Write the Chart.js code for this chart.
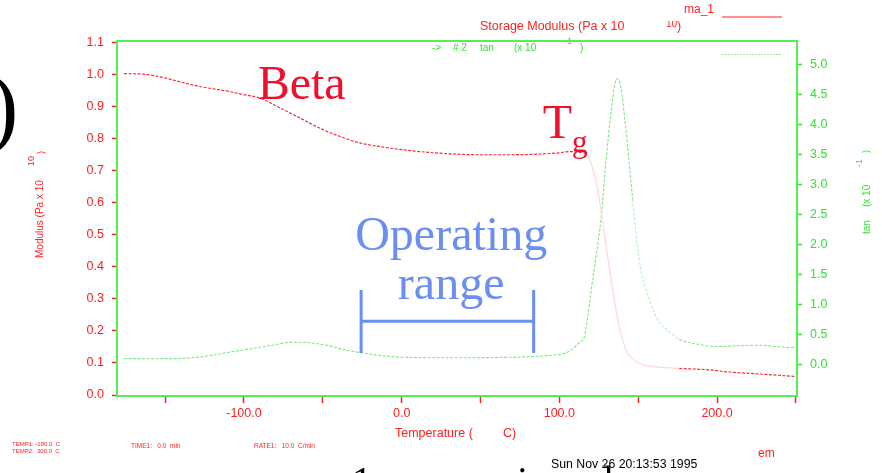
<!DOCTYPE html>
<html>
<head>
<meta charset="utf-8">
<script src="https://cdn.jsdelivr.net/npm/chart.js@4.4.0/dist/chart.umd.min.js"></script>
<style>
html,body{margin:0;padding:0;background:#fff;overflow:hidden;}
canvas{display:block;}
</style>
</head>
<body>
<canvas id="c" width="882" height="473"></canvas>
<script>
// Storage modulus (Pa x 10^10) vs temperature (C)
const modTemp = [-176,-165,-153,-140,-128,-109,-102.5,-90,-77,-64.6,-52,-39,-26.6,-7.6,11.4,30,49,68,87,100,106,112,117.7,121,124,127,130,133.5,138,142.4,150.6,163,176,197,205,226,247,250];
const modVal  = [1.003,1.002,0.993,0.977,0.963,0.947,0.94,0.927,0.896,0.865,0.833,0.807,0.787,0.771,0.760,0.753,0.750,0.750,0.752,0.756,0.760,0.758,0.750,0.71,0.651,0.556,0.453,0.338,0.213,0.14,0.10,0.087,0.083,0.078,0.073,0.066,0.059,0.058];
// tan delta (x 10^-1) vs temperature (C)
const tanTemp = [-176,-160,-142,-123,-110,-96,-82,-69,-58,-46,-37,-27,-6,26,60,83,98,104,108,113,116,118,120,123,126.6,129.7,133,135,136.5,139,142,146.5,150.6,157,163,170,176,188,201,215,227,236,248,250];
const tanVal  = [0.107,0.105,0.107,0.15,0.21,0.27,0.33,0.38,0.37,0.32,0.26,0.21,0.14,0.12,0.125,0.14,0.17,0.20,0.26,0.38,0.48,0.80,1.21,1.76,2.48,3.43,4.26,4.65,4.77,4.63,3.98,2.76,1.76,1.10,0.73,0.55,0.43,0.345,0.31,0.32,0.33,0.31,0.29,0.29];
// tick labels
const xTickVals  = [-150,-100,-50,0,50,100,150,200,250];
const yTickVals  = [0,0.1,0.2,0.3,0.4,0.5,0.6,0.7,0.8,0.9,1.0,1.1];
const y2TickVals = [0,0.5,1.0,1.5,2.0,2.5,3.0,3.5,4.0,4.5,5.0];

const RED = '#ff2020', GREEN = '#2fe62f', BORDER = '#55ee55', BLUE = '#6a8ef3', ANN = '#f0102e';
const SANS = '"Liberation Sans", Arial, sans-serif';
const SERIF = '"Liberation Serif", "Times New Roman", serif';

const pts = (xs, ys) => xs.map((x, i) => ({x: x, y: ys[i]}));

const deco = {
  id: 'deco',
  afterDraw(chart) {
    const ctx = chart.ctx, a = chart.chartArea;
    const sx = chart.scales.x, sy = chart.scales.y;
    const X = v => sx.getPixelForValue(v), Y = v => sy.getPixelForValue(v);
    ctx.save();
    // top frame line
    ctx.strokeStyle = BORDER; ctx.lineWidth = 2;
    ctx.beginPath(); ctx.moveTo(a.left, a.top); ctx.lineTo(a.right, a.top); ctx.stroke();

    function txt(s, x, y, font, color, align, base) {
      ctx.font = font; ctx.fillStyle = color;
      ctx.textAlign = align || 'left'; ctx.textBaseline = base || 'middle';
      ctx.fillText(s, x, y);
    }
    // header texts
    txt('Storage Modulus (Pa x 10', 480, 27, '12.5px ' + SANS, RED);
    ctx.save(); ctx.beginPath(); ctx.rect(660, 21, 30, 20); ctx.clip();
    txt('10', 666, 24, '10px ' + SANS, RED); ctx.restore();
    txt(')', 677, 27, '12.5px ' + SANS, RED);
    txt('ma_1', 684, 10, '12px ' + SANS, RED);
    ctx.strokeStyle = RED; ctx.lineWidth = 1.2;
    ctx.beginPath(); ctx.moveTo(722, 17); ctx.lineTo(782, 17); ctx.stroke();
    txt('->', 432, 48, '10px ' + SANS, GREEN);
    txt('# 2', 453, 48, '10px ' + SANS, GREEN);
    txt('tan', 480, 48, '10px ' + SANS, GREEN);
    txt('(x 10', 514, 48, '10px ' + SANS, GREEN);
    txt('-1', 564, 42, '9px ' + SANS, GREEN);
    txt(')', 580, 48, '10px ' + SANS, GREEN);
    ctx.strokeStyle = '#9af09a'; ctx.lineWidth = 1; ctx.setLineDash([2, 1]);
    ctx.beginPath(); ctx.moveTo(722, 54.5); ctx.lineTo(782, 54.5); ctx.stroke();
    ctx.setLineDash([]);

    // left axis title (rotated)
    ctx.save(); ctx.translate(40, 258); ctx.rotate(-Math.PI / 2);
    txt('Modulus (Pa x 10', 0, 0, '10px ' + SANS, RED);
    ctx.restore();
    ctx.save(); ctx.translate(32, 166); ctx.rotate(-Math.PI / 2);
    txt('10', 0, 0, '9px ' + SANS, RED); ctx.restore();
    ctx.save(); ctx.translate(42, 154); ctx.rotate(-Math.PI / 2);
    txt(')', 0, 0, '9px ' + SANS, RED); ctx.restore();

    // right axis title (rotated)
    ctx.save(); ctx.translate(867, 234); ctx.rotate(-Math.PI / 2);
    txt('tan', 0, 0, '10px ' + SANS, GREEN);
    txt('(x 10', 27, 0, '10px ' + SANS, GREEN);
    ctx.restore();
    ctx.save(); ctx.translate(860, 167); ctx.rotate(-Math.PI / 2);
    txt('-1', 0, 0, '9px ' + SANS, GREEN); ctx.restore();
    ctx.save(); ctx.translate(867, 153); ctx.rotate(-Math.PI / 2);
    txt(')', 0, 0, '9px ' + SANS, GREEN); ctx.restore();

    // bottom texts
    txt('Temperature (', 395, 434, '12.5px ' + SANS, RED);
    txt('C)', 503, 434, '12.5px ' + SANS, RED);
    txt('TEMP1: -180.0  C', 12, 444, '6px ' + SANS, RED);
    txt('TEMP2:  300.0  C', 12, 451, '6px ' + SANS, RED);
    txt('TIME1:   0.0  min', 131, 446, '6.5px ' + SANS, RED);
    txt('RATE1:   10.0  C/min', 254, 446, '6.5px ' + SANS, RED);
    txt('em', 758, 454, '12px ' + SANS, RED);

    // clipped slide text fragments at the bottom
    ctx.font = '40px ' + SERIF; ctx.fillStyle = '#000'; ctx.textBaseline = 'alphabetic'; ctx.textAlign = 'left';
    ctx.fillText('1', 352, 494); ctx.fillText('i', 517, 494); ctx.fillText('d', 593, 494);
    txt('Sun Nov 26 20:13:53 1995', 551, 465, '12.3px ' + SANS, '#000');

    // big black ")" at the left edge
    ctx.font = '88px ' + SERIF; ctx.fillStyle = '#000'; ctx.textBaseline = 'alphabetic'; ctx.textAlign = 'left';
    ctx.fillText(')', -11, 136);

    // annotations in data coordinates
    ctx.textBaseline = 'alphabetic';
    ctx.font = '48px ' + SERIF; ctx.fillStyle = ANN; ctx.textAlign = 'left';
    ctx.fillText('Beta', X(-91.3), Y(0.925));
    ctx.fillText('T', X(89.4), Y(0.8016));
    ctx.font = '32px ' + SERIF;
    ctx.fillText('g', X(107.8), Y(0.759));
    ctx.font = '48px ' + SERIF; ctx.fillStyle = BLUE; ctx.textAlign = 'center';
    ctx.fillText('Operating', X(31.4), Y(0.453));
    ctx.fillText('range', X(31.4), Y(0.30));
    ctx.strokeStyle = BLUE; ctx.lineWidth = 3; ctx.lineCap = 'butt';
    ctx.beginPath();
    ctx.moveTo(X(-25.7), Y(0.328)); ctx.lineTo(X(-25.7), Y(0.131));
    ctx.moveTo(X(83.7), Y(0.328)); ctx.lineTo(X(83.7), Y(0.131));
    ctx.moveTo(X(-25.7), Y(0.23)); ctx.lineTo(X(83.7), Y(0.23));
    ctx.stroke();
    ctx.restore();
  }
};

new Chart(document.getElementById('c'), {
  type: 'line',
  data: {
    datasets: [
      {
        label: 'Storage Modulus',
        data: pts(modTemp, modVal),
        yAxisID: 'y',
        borderColor: '#ff2a3a',
        borderWidth: 1.2,
        borderDash: [3, 1.5],
        pointRadius: 0,
        cubicInterpolationMode: 'monotone',
        segment: {
          borderColor: c => (c.p0.parsed.x >= 117 && c.p1.parsed.x <= 177) ? '#ffd6de' : undefined,
          borderDash: c => (c.p0.parsed.x >= 117 && c.p1.parsed.x <= 177) ? [] : undefined
        }
      },
      {
        label: 'tan',
        data: pts(tanTemp, tanVal),
        yAxisID: 'y2',
        borderColor: '#7ee87e',
        borderWidth: 1.1,
        borderDash: [3, 1.5],
        pointRadius: 0,
        cubicInterpolationMode: 'monotone',
        segment: {
          borderColor: c => (c.p0.parsed.x >= 143 && c.p1.parsed.x <= 177) ? '#b8f2b8' : undefined
        }
      }
    ]
  },
  options: {
    responsive: false,
    animation: false,
    devicePixelRatio: 1,
    layout: { padding: { top: 41, left: 0, right: 0, bottom: 0 } },
    plugins: { legend: { display: false }, tooltip: { enabled: false } },
    scales: {
      x: {
        type: 'linear',
        position: 'bottom',
        min: -180.5, max: 250.7,
        afterBuildTicks: s => { s.ticks = xTickVals.map(v => ({ value: v })); },
        afterFit: s => { s.height = 77; },
        grid: { drawOnChartArea: false, drawTicks: true, tickLength: 7, tickColor: RED, tickWidth: 1.5 },
        border: { color: BORDER, width: 2 },
        ticks: {
          autoSkip: false, maxRotation: 0, padding: 3, color: RED,
          font: { family: SANS, size: 12.5 },
          callback: v => (v % 100 === 0 ? v.toFixed(1) : '')
        }
      },
      y: {
        type: 'linear',
        position: 'left',
        min: -0.003, max: 1.105,
        afterBuildTicks: s => { s.ticks = yTickVals.map(v => ({ value: v })); },
        afterFit: s => { s.width = 117; },
        grid: { drawOnChartArea: false, drawTicks: true, tickLength: 5, tickColor: RED, tickWidth: 1.5 },
        border: { color: BORDER, width: 2 },
        ticks: {
          padding: 8, color: RED, font: { family: SANS, size: 12.5 },
          callback: v => v.toFixed(1)
        }
      },
      y2: {
        type: 'linear',
        position: 'right',
        min: -0.517, max: 5.4,
        afterBuildTicks: s => { s.ticks = y2TickVals.map(v => ({ value: v })); },
        afterFit: s => { s.width = 85; },
        grid: { drawOnChartArea: false, drawTicks: true, tickLength: 5, tickColor: GREEN, tickWidth: 1.5 },
        border: { color: BORDER, width: 2 },
        ticks: {
          padding: 8, color: GREEN, font: { family: SANS, size: 12.5 },
          callback: v => v.toFixed(1)
        }
      }
    }
  },
  plugins: [deco]
});
</script>
</body>
</html>
